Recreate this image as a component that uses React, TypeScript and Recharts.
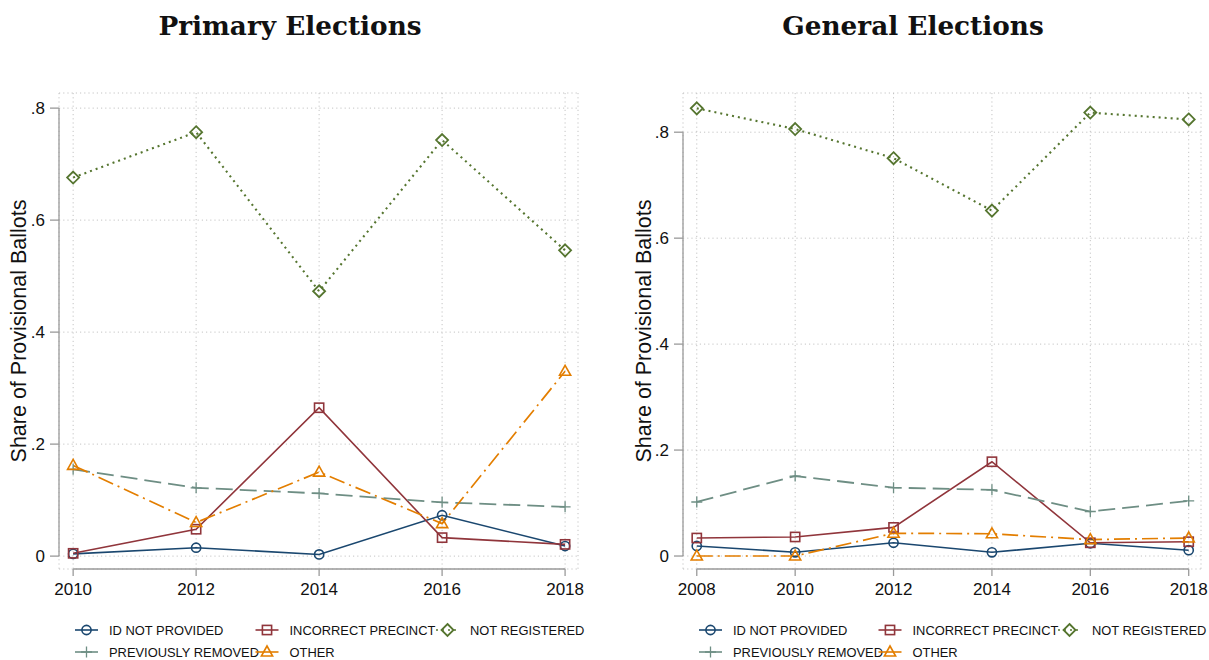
import { LineChart, Line, XAxis, YAxis, CartesianGrid, ReferenceLine } from 'recharts';

const primaryYears = [2010, 2012, 2014, 2016, 2018];
const primaryIdNotProvided = [0.004, 0.015, 0.003, 0.073, 0.018];
const primaryIncorrectPrecinct = [0.005, 0.048, 0.265, 0.033, 0.021];
const primaryNotRegistered = [0.676, 0.757, 0.473, 0.743, 0.546];
const primaryPreviouslyRemoved = [0.155, 0.122, 0.112, 0.096, 0.088];
const primaryOther = [0.162, 0.06, 0.15, 0.058, 0.33];

const generalYears = [2008, 2010, 2012, 2014, 2016, 2018];
const generalIdNotProvided = [0.019, 0.007, 0.025, 0.007, 0.024, 0.011];
const generalIncorrectPrecinct = [0.034, 0.036, 0.054, 0.178, 0.025, 0.027];
const generalNotRegistered = [0.845, 0.806, 0.751, 0.652, 0.837, 0.824];
const generalPreviouslyRemoved = [0.102, 0.151, 0.129, 0.125, 0.084, 0.104];
const generalOther = [0.0, 0.0, 0.043, 0.042, 0.031, 0.034];

const yTicks = [0, 0.2, 0.4, 0.6, 0.8];
const yAxisTitle = 'Share of Provisional Ballots';

type Shape = 'circle' | 'square' | 'diamond' | 'plus' | 'triangle';

const series: { key: string; label: string; color: string; dash?: string; width: number; shape: Shape }[] = [
  { key: 'id', label: 'ID NOT PROVIDED', color: '#1a476f', width: 1.6, shape: 'circle' },
  { key: 'incorrect', label: 'INCORRECT PRECINCT', color: '#90353b', width: 1.6, shape: 'square' },
  { key: 'notReg', label: 'NOT REGISTERED', color: '#55752f', dash: '2 4', width: 2.1, shape: 'diamond' },
  { key: 'removed', label: 'PREVIOUSLY REMOVED', color: '#6e8e84', dash: '17 7', width: 1.8, shape: 'plus' },
  { key: 'other', label: 'OTHER', color: '#e37e00', dash: '16 5 2 5', width: 1.7, shape: 'triangle' },
];

function buildRows(years: number[], cols: Record<string, number[]>) {
  return years.map((year, i) => {
    const row: Record<string, number> = { year };
    Object.keys(cols).forEach((k) => (row[k] = cols[k][i]));
    return row;
  });
}

const primaryRows = buildRows(primaryYears, {
  id: primaryIdNotProvided,
  incorrect: primaryIncorrectPrecinct,
  notReg: primaryNotRegistered,
  removed: primaryPreviouslyRemoved,
  other: primaryOther,
});

const generalRows = buildRows(generalYears, {
  id: generalIdNotProvided,
  incorrect: generalIncorrectPrecinct,
  notReg: generalNotRegistered,
  removed: generalPreviouslyRemoved,
  other: generalOther,
});

function Marker({ shape, cx, cy, color }: { shape: Shape; cx: number; cy: number; color: string }) {
  const common = { fill: 'none', stroke: color, strokeWidth: 1.6 };
  if (cx == null || cy == null) return null;
  switch (shape) {
    case 'circle':
      return <circle cx={cx} cy={cy} r={4.6} {...common} />;
    case 'square':
      return <rect x={cx - 4.6} y={cy - 4.6} width={9.2} height={9.2} {...common} />;
    case 'diamond':
      return <path d={`M${cx} ${cy - 6}L${cx + 6} ${cy}L${cx} ${cy + 6}L${cx - 6} ${cy}Z`} {...common} strokeWidth={1.8} />;
    case 'plus':
      return <path d={`M${cx - 5.5} ${cy}H${cx + 5.5}M${cx} ${cy - 5.5}V${cy + 5.5}`} {...common} strokeWidth={1.3} />;
    case 'triangle':
      return <path d={`M${cx} ${cy - 6}L${cx + 5.6} ${cy + 4}L${cx - 5.6} ${cy + 4}Z`} {...common} />;
  }
}

const fmtY = (v: number) => (v === 0 ? '0' : `.${Math.round(v * 10)}`);
const tickFont = { fontFamily: 'Liberation Sans, Arial, sans-serif', fontSize: 17, fill: '#111' };
const axisGray = '#9a9a9a';

function Panel({
  rows, years, xDomain, yDomain, width, yAxisWidth, marginRight,
}: {
  rows: Record<string, number>[]; years: number[]; xDomain: [number, number]; yDomain: [number, number];
  width: number; yAxisWidth: number; marginRight: number;
}) {
  return (
    <LineChart width={width} height={660} data={rows} margin={{ top: 93, right: marginRight, bottom: 0, left: 0 }}>
      <CartesianGrid stroke="#c4c4c4" strokeDasharray="1.2 3" strokeWidth={1} />
      <XAxis
        dataKey="year" type="number" domain={xDomain} allowDataOverflow ticks={years}
        height={91} axisLine={false} tickLine={{ stroke: axisGray, strokeWidth: 1.3 }}
        tickSize={7} tickMargin={7} tick={tickFont} interval={0}
      />
      <YAxis
        type="number" domain={yDomain} allowDataOverflow ticks={yTicks} tickFormatter={fmtY}
        width={yAxisWidth} axisLine={false} tickLine={{ stroke: axisGray, strokeWidth: 1.3 }}
        tickSize={9} tickMargin={5} tick={tickFont} interval={0}
      />
      <ReferenceLine
        segment={[{ x: years[0], y: yDomain[0] }, { x: years[years.length - 1], y: yDomain[0] }]}
        stroke={axisGray} strokeWidth={1.3} ifOverflow="visible"
      />
      <ReferenceLine
        segment={[{ x: xDomain[0], y: 0 }, { x: xDomain[0], y: yTicks[yTicks.length - 1] }]}
        stroke={axisGray} strokeWidth={1.3} ifOverflow="visible"
      />
      {series.map((s) => (
        <Line
          key={s.key}
          dataKey={s.key}
          stroke={s.color}
          strokeWidth={s.width}
          strokeDasharray={s.dash}
          isAnimationActive={false}
          activeDot={false}
          dot={(p: any) => <Marker key={`${s.key}-${p.index}`} shape={s.shape} cx={p.cx} cy={p.cy} color={s.color} />}
        />
      ))}
    </LineChart>
  );
}

const legendLayout = [
  { col: 0, row: 0 }, { col: 1, row: 0 }, { col: 2, row: 0 }, { col: 0, row: 1 }, { col: 1, row: 1 },
];

function Legend({ x0, colWidth }: { x0: number; colWidth: number }) {
  return (
    <g>
      {series.map((s, i) => {
        const { col, row } = legendLayout[i];
        const x = x0 + col * colWidth;
        const y = 630 + row * 22;
        return (
          <g key={s.key}>
            <line x1={x} y1={y} x2={x + 23} y2={y} stroke={s.color} strokeWidth={1.6} strokeDasharray={s.key === 'notReg' ? '2 4' : undefined} />
            <Marker shape={s.shape} cx={x + 11.5} cy={y} color={s.color} />
            <text x={x + 34} y={y + 4.7} fontFamily="Liberation Sans, Arial, sans-serif" fontSize={12.9} fill="#111">
              {s.label}
            </text>
          </g>
        );
      })}
    </g>
  );
}

export default function App() {
  return (
    <div style={{ position: 'absolute', left: 0, top: 0, width: 1209, height: 660, background: '#fff', overflow: 'hidden' }}>
      <div style={{ position: 'absolute', left: 0, top: 0 }}>
        <Panel rows={primaryRows} years={primaryYears} xDomain={[2009.77, 2018.21]} yDomain={[-0.023, 0.827]} width={605} yAxisWidth={59} marginRight={27} />
      </div>
      <div style={{ position: 'absolute', left: 605, top: 0 }}>
        <Panel rows={generalRows} years={generalYears} xDomain={[2007.72, 2018.25]} yDomain={[-0.0245, 0.874]} width={604} yAxisWidth={78} marginRight={8} />
      </div>
      <svg width={1209} height={660} style={{ position: 'absolute', left: 0, top: 0, pointerEvents: 'none' }}>
        <text x={290} y={35} textAnchor="middle" fontFamily="DejaVu Serif, serif" fontWeight="bold" fontSize={26.3} fill="#111">
          Primary Elections
        </text>
        <text x={913} y={35} textAnchor="middle" fontFamily="DejaVu Serif, serif" fontWeight="bold" fontSize={26.3} fill="#111">
          General Elections
        </text>
        <text x={19} y={331} transform="rotate(-90 19 331)" textAnchor="middle" dominantBaseline="central" fontFamily="Liberation Sans, Arial, sans-serif" fontSize={21.5} fill="#111">
          {yAxisTitle}
        </text>
        <text x={644} y={331} transform="rotate(-90 644 331)" textAnchor="middle" dominantBaseline="central" fontFamily="Liberation Sans, Arial, sans-serif" fontSize={21.5} fill="#111">
          {yAxisTitle}
        </text>
        <Legend x0={75} colWidth={180.5} />
        <Legend x0={699} colWidth={179.5} />
      </svg>
    </div>
  );
}
